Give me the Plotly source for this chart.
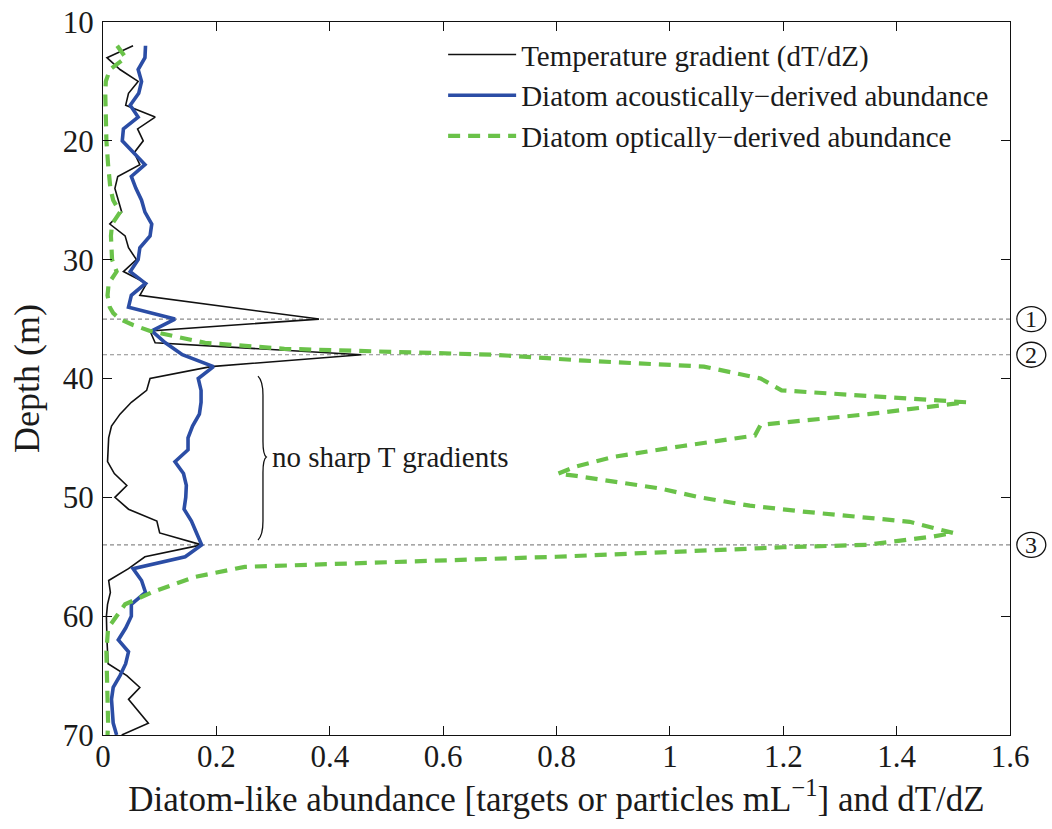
import plotly.graph_objects as go

# ---------------- data ----------------
depth_ctd = list(range(12, 71))
temp_gradient = [
    0.053, 0.007, 0.030, 0.062, 0.045, 0.040, 0.092, 0.061, 0.071, 0.055,
    0.065, 0.026, 0.021, 0.027, 0.033, 0.012, 0.039, 0.045, 0.059, 0.036,
    0.077, 0.065, 0.220, 0.381, 0.083, 0.092, 0.456, 0.190, 0.083, 0.077,
    0.050, 0.030, 0.015, 0.010, 0.009, 0.008, 0.020, 0.042, 0.021, 0.045,
    0.095, 0.100, 0.174, 0.074, 0.045, 0.010, 0.013, 0.008, 0.006, 0.006,
    0.007, 0.008, 0.009, 0.042, 0.065, 0.045, 0.062, 0.080, 0.033,
]
acoustic_abundance = [
    0.075, 0.074, 0.062, 0.068, 0.063, 0.048, 0.062, 0.036, 0.034, 0.054,
    0.074, 0.050, 0.058, 0.068, 0.074, 0.086, 0.083, 0.065, 0.062, 0.048,
    0.075, 0.050, 0.045, 0.127, 0.086, 0.110, 0.140, 0.195, 0.168, 0.173,
    0.173, 0.170, 0.158, 0.150, 0.150, 0.127, 0.142, 0.147, 0.146, 0.143,
    0.156, 0.165, 0.174, 0.145, 0.053, 0.068, 0.075, 0.050, 0.050, 0.040,
    0.027, 0.045, 0.040, 0.030, 0.018, 0.015, 0.016, 0.018, 0.024,
]
optical_depth = [
    12.0, 13.0, 14.0, 15.0, 16.0, 18.0, 20.0, 22.0, 24.0, 25.0,
    26.0, 27.0, 28.0, 30.0, 31.0, 32.0, 33.0, 34.0, 34.5, 35.0,
    35.5, 36.0, 36.5, 37.0, 37.5, 37.75, 38.0, 38.5, 39.0, 40.0,
    41.0, 42.0, 43.0, 43.9, 44.8, 45.7, 46.6, 47.4, 48.0, 48.2,
    49.25, 50.0, 50.7, 51.2, 51.75, 52.06, 53.0, 53.3, 54.0, 54.2,
    55.0, 55.2, 55.4, 55.85, 56.7, 58.0, 59.0, 61.0, 63.0, 65.0,
    67.0, 69.0, 70.0,
]
optical_abundance = [
    0.025, 0.040, 0.012, 0.005, 0.004, 0.005, 0.006, 0.009, 0.013, 0.018,
    0.030, 0.016, 0.014, 0.016, 0.024, 0.010, 0.008, 0.012, 0.018, 0.030,
    0.053, 0.083, 0.130, 0.180, 0.320, 0.520, 0.690, 0.850, 1.060, 1.160,
    1.197, 1.523, 1.350, 1.160, 1.150, 1.020, 0.900, 0.835, 0.803, 0.835,
    0.982, 1.053, 1.141, 1.235, 1.353, 1.423, 1.500, 1.464, 1.347, 1.200,
    0.800, 0.665, 0.515, 0.250, 0.162, 0.086, 0.039, 0.009, 0.006, 0.007,
    0.009, 0.009, 0.008,
]
marker_depths = [35, 38, 54]
marker_labels = ["1", "2", "3"]
x_ticks = [0, 0.2, 0.4, 0.6, 0.8, 1.0, 1.2, 1.4, 1.6]
x_ticklabels = ["0", "0.2", "0.4", "0.6", "0.8", "1", "1.2", "1.4", "1.6"]
y_ticks = [10, 20, 30, 40, 50, 60, 70]
y_ticklabels = ["10", "20", "30", "40", "50", "60", "70"]
series_names = [
    "Temperature gradient (dT/dZ)",
    "Diatom acoustically\u2212derived abundance",
    "Diatom optically\u2212derived abundance",
]
brace_text = "no sharp T gradients"
x_title = "Diatom-like abundance [targets or particles mL<sup>\u22121</sup>] and dT/dZ"
y_title = "Depth (m)"

# ---------------- style ----------------
FONT = "Liberation Serif, Times New Roman, serif"
TXT = "#1a1a1a"

fig = go.Figure()
fig.add_trace(go.Scatter(x=temp_gradient, y=depth_ctd, mode="lines",
                         name=series_names[0],
                         line=dict(color="#111111", width=1.6)))
fig.add_trace(go.Scatter(x=acoustic_abundance, y=depth_ctd, mode="lines",
                         name=series_names[1],
                         line=dict(color="#2B4DA5", width=3.6)))
fig.add_trace(go.Scatter(x=optical_abundance, y=optical_depth, mode="lines",
                         name=series_names[2],
                         line=dict(color="#6AC249", width=4.2, dash="12px,8px")))

for d in marker_depths:
    fig.add_hline(y=d, line=dict(color="#8a8a8a", width=1.2, dash="4px,3px"),
                  layer="below")

# circled numbers outside the right edge
for d, lab in zip(marker_depths, marker_labels):
    yp = (70 - d) / 60.0
    fig.add_shape(type="circle", xref="paper", yref="paper",
                  xsizemode="pixel", ysizemode="pixel",
                  xanchor=1.0235, yanchor=yp,
                  x0=-14.5, x1=14.5, y0=-12.5, y1=12.5,
                  line=dict(color="#111111", width=1.3))
    fig.add_annotation(xref="paper", yref="paper", x=1.0235, y=yp, text=lab,
                       showarrow=False, xanchor="center", yanchor="middle",
                       font=dict(family=FONT, size=24, color=TXT))

# brace + label
bx0, bx1, bx2 = 0.2734, 0.2822, 0.2881
btop, bmid, bbot = 39.8, 46.6, 53.6
brace_path = (
    f"M {bx0},{btop} Q {bx1},{btop+0.4} {bx1},{btop+1.6} "
    f"L {bx1},{bmid-1.3} Q {bx1},{bmid-0.2} {bx2},{bmid} "
    f"Q {bx1},{bmid+0.2} {bx1},{bmid+1.3} "
    f"L {bx1},{bbot-1.6} Q {bx1},{bbot-0.4} {bx0},{bbot}"
)
fig.add_shape(type="path", xref="x", yref="y", path=brace_path,
              line=dict(color="#111111", width=1.3))
fig.add_annotation(xref="x", yref="y", x=0.294, y=46.6, text=brace_text,
                   showarrow=False, xanchor="left", yanchor="middle",
                   font=dict(family=FONT, size=29, color=TXT))

axis_common = dict(
    showline=True, linecolor="#111111", linewidth=1.3, mirror="ticks",
    ticks="inside", ticklen=9, tickwidth=1.2, tickcolor="#111111",
    showgrid=False, zeroline=False, automargin=False,
    tickfont=dict(family=FONT, size=31, color=TXT),
)
fig.update_xaxes(range=[0, 1.6], tickvals=x_ticks, ticktext=x_ticklabels,
                 title=dict(text=x_title, font=dict(family=FONT, size=35, color=TXT),
                            standoff=10),
                 ticklabelstandoff=-6,
                 **axis_common)
fig.update_yaxes(range=[70, 10], tickvals=y_ticks, ticktext=y_ticklabels,
                 title=dict(text=y_title, font=dict(family=FONT, size=36, color=TXT),
                            standoff=12),
                 ticklabelstandoff=2,
                 **axis_common)

fig.update_layout(
    width=1052, height=829,
    margin=dict(l=103, r=42, t=22, b=94),
    plot_bgcolor="white", paper_bgcolor="white",
    font=dict(family=FONT, color=TXT),
    showlegend=True,
    legend=dict(x=0.375, y=0.99, xanchor="left", yanchor="top",
                bgcolor="rgba(0,0,0,0)", borderwidth=0,
                font=dict(family=FONT, size=29, color=TXT),
                itemwidth=68, tracegroupgap=0),
)

fig.write_html(
    "out.html",
    config={"displayModeBar": False},
    post_script="document.body.style.margin='0px';document.body.style.padding='0px';",
)
